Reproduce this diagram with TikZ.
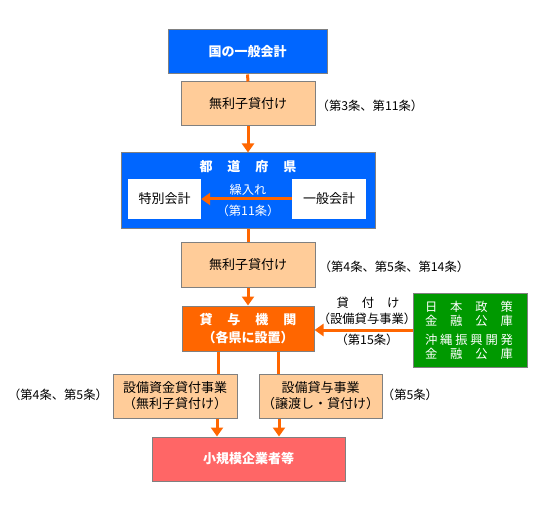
\documentclass[tikz,border=0pt]{standalone}
\usepackage{fontspec}
\setmainfont{Noto Sans CJK JP}
\usetikzlibrary{arrows.meta}
\definecolor{cblue}{RGB}{0,102,255}
\definecolor{cpeach}{RGB}{255,204,153}
\definecolor{corange}{RGB}{255,102,0}
\definecolor{cgreen}{RGB}{0,153,0}
\definecolor{cpink}{RGB}{255,102,102}
\definecolor{cborder}{RGB}{128,128,128}
\tikzset{
  box/.style={draw=cborder,line width=1pt,rectangle,inner sep=0pt,align=center,font=\fontsize{13}{16}\selectfont},
  bluebox/.style={box,fill=cblue,text=white},
  peachbox/.style={box,fill=cpeach,text=black},
  whitebox/.style={rectangle,fill=white,inner sep=0pt,font=\fontsize{13}{16}\selectfont},
  lbl/.style={inner sep=0pt,font=\fontsize{12.3}{15}\selectfont},
  wlbl/.style={lbl,text=white},
  boldf/.style={font=\fontsize{13}{16}\selectfont\bfseries},
  conn/.style={draw=corange,line width=3pt},
  arr/.style={conn,-{Triangle[length=9pt,width=12pt]}},
}
\begin{document}
\begin{tikzpicture}[x=1pt,y=-1pt]
\useasboundingbox (0,0) rectangle (549,505);
% boxes
\node[bluebox,minimum width=159pt,minimum height=44pt,boldf] (top) at (247.5,52) {国の一般会計};
\node[peachbox,minimum width=134pt,minimum height=44pt] (b1) at (248,104) {無利子貸付け};
\node[lbl] (l1) at (370,106) {（第3条、第11条）};
\node[bluebox,minimum width=254pt,minimum height=76pt] (pref) at (248,191) {};
\node[wlbl,boldf] (preft) at (248,167) {\makebox[97pt][s]{都\hfill 道\hfill 府\hfill 県}};
\node[whitebox,minimum width=73pt,minimum height=40pt] (toku) at (164.5,199) {特別会計};
\node[whitebox,minimum width=74pt,minimum height=40pt] (ippan) at (329,199) {一般会計};
\node[wlbl] (kuri) at (248,190) {繰入れ};
\node[wlbl] (kuri2) at (248,211) {（第11条）};
\node[peachbox,minimum width=134pt,minimum height=44pt] (b2) at (248,265) {無利子貸付け};
\node[lbl] (l2) at (394,267) {（第4条、第5条、第14条）};
\node[box,fill=corange,text=white,minimum width=132pt,minimum height=45pt] (kashi) at (248,328.5) {};
\node[wlbl,boldf] (kashit) at (248,320) {\makebox[97pt][s]{貸\hfill 与\hfill 機\hfill 関}};
\node[wlbl,boldf] (kashit2) at (248,338) {（各県に設置）};
\node[box,fill=cgreen,minimum width=114pt,minimum height=74pt] (green) at (470,330) {};
\node[wlbl] (g1) at (469,307) {\makebox[88pt][s]{日\hfill 本\hfill 政\hfill 策}};
\node[wlbl] (g2) at (469,321) {\makebox[88pt][s]{金\hfill 融\hfill 公\hfill 庫}};
\node[wlbl] (g3) at (469,340) {\makebox[88pt][s]{沖\hfill 縄\hfill 振\hfill 興\hfill 開\hfill 発}};
\node[wlbl] (g4) at (469,354) {\makebox[88pt][s]{金\hfill 融\hfill 公\hfill 庫}};
\node[lbl] (k1) at (368,303) {\makebox[63pt][s]{貸\hfill 付\hfill け}};
\node[lbl] (k2) at (367,319) {（設備貸与事業）};
\node[lbl] (k3) at (367,340) {（第15条）};
\node[peachbox,minimum width=124pt,minimum height=44pt] (bl) at (175,396) {設備資金貸付事業\\（無利子貸付け）};
\node[peachbox,minimum width=123pt,minimum height=44pt] (br) at (320.5,396) {設備貸与事業\\（譲渡し・貸付け）};
\node[lbl] (l3) at (58,395) {（第4条、第5条）};
\node[lbl] (l4) at (410,395) {（第5条）};
\node[box,fill=cpink,text=white,minimum width=193pt,minimum height=44pt,boldf] (pink) at (248.5,459) {小規模企業者等};
% connectors
\draw[conn] (top.south) -- (b1.north);
\draw[arr] (b1.south) -- (pref.north);
\draw[arr] (ippan.west) -- (toku.east);
\draw[conn] (pref.south) -- (b2.north);
\draw[arr] (b2.south) -- (kashi.north);
\draw[arr] (green.west) -- (green.west -| kashi.east);
\draw[conn] (kashi.south -| 218,0) -- (bl.north -| 218,0);
\draw[conn] (kashi.south -| 278,0) -- (br.north -| 278,0);
\draw[arr] (bl.south -| 217,0) -- (pink.north -| 217,0);
\draw[arr] (br.south -| 279,0) -- (pink.north -| 279,0);
\end{tikzpicture}
\end{document}
